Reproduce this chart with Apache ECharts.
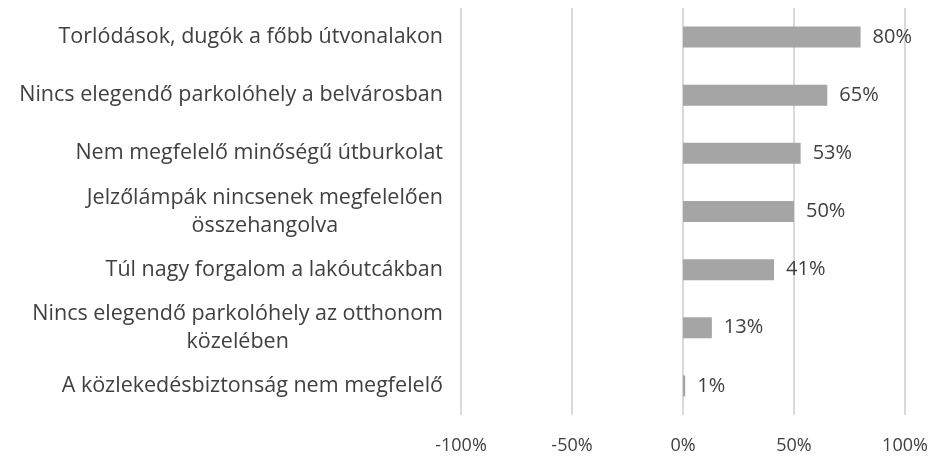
<!DOCTYPE html>
<html>
<head>
<meta charset="utf-8">
<script src="https://cdn.jsdelivr.net/npm/echarts@6/dist/echarts.min.js"></script>
<style>
  html, body { margin: 0; padding: 0; background: #fff; }
  #chart { width: 950px; height: 464px; }
</style>
</head>
<body>
<div id="chart"></div>
<script>
// problémák a közlekedésben
var categories = [
    'Torlódások, dugók a főbb útvonalakon',
    'Nincs elegendő parkolóhely a belvárosban',
    'Nem megfelelő minőségű útburkolat',
    'Jelzőlámpák nincsenek megfelelően\nösszehangolva',
    'Túl nagy forgalom a lakóutcákban',
    'Nincs elegendő parkolóhely az otthonom\nközelében',
    'A közlekedésbiztonság nem megfelelő'
];
var values = [80, 65, 53, 50, 41, 13, 1];
var xTicks = [-100, 100, 50]; // min, max, interval

var textColor = '#404040';
var fontFam = "'Open Sans', sans-serif";

var myChart = echarts.init(document.getElementById('chart'));
var option = {
    backgroundColor: '#fff',
    animation: false,
    grid: {left: 461, right: 45, top: 8, bottom: 49},
    xAxis: {
        type: 'value',
        min: xTicks[0], max: xTicks[1], interval: xTicks[2],
        axisLine: {show: false},
        axisTick: {show: false},
        splitLine: {show: true, lineStyle: {color: '#d9d9d9', width: 2}},
        axisLabel: {
            color: textColor, fontSize: 18, fontFamily: fontFam, margin: 22,
            formatter: function (v) { return v + '%'; }
        }
    },
    yAxis: {
        type: 'category',
        inverse: true,
        data: categories,
        axisLine: {show: false},
        axisTick: {show: false},
        axisLabel: {
            margin: 18,
            formatter: function (v) {
                return v.split('\n').map(function (s) { return '{c|' + s + '}'; }).join('\n');
            },
            rich: {
                c: {align: 'center', color: textColor, fontSize: 21.5, fontFamily: fontFam, lineHeight: 28}
            }
        }
    },
    series: [{
        type: 'bar',
        data: values,
        barWidth: 21,
        itemStyle: {color: '#a5a5a5'},
        label: {
            show: true, position: 'right', distance: 12,
            color: textColor, fontSize: 20, fontFamily: fontFam,
            formatter: '{c}%'
        }
    }]
};
myChart.setOption(option);
</script>
</body>
</html>
